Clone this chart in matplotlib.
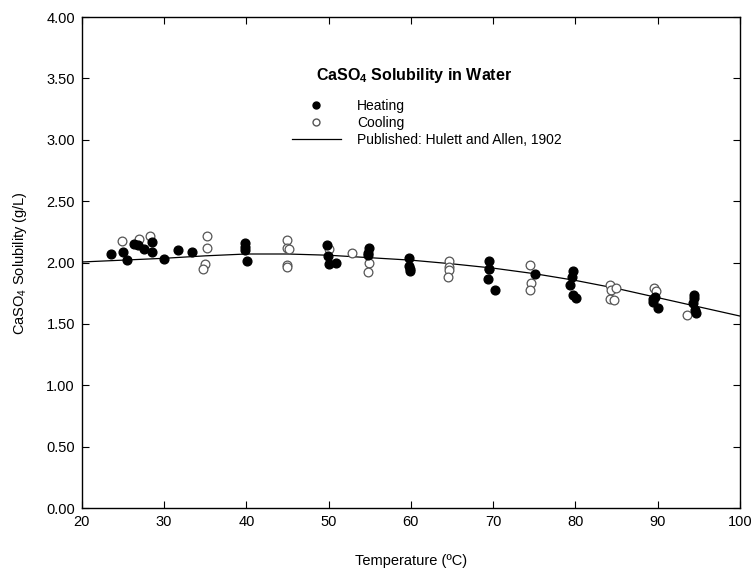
import numpy as np
import matplotlib
matplotlib.use('Agg')
import matplotlib.pyplot as plt
from matplotlib.lines import Line2D

plt.rcParams['font.family'] = ['Liberation Sans', 'DejaVu Sans']
plt.rcParams['mathtext.fontset'] = 'custom'
plt.rcParams['mathtext.rm'] = 'Liberation Sans'
plt.rcParams['mathtext.bf'] = 'Liberation Sans:bold'

# heating runs (filled dots)
heat_t = [23.6, 25.0, 25.5, 26.4, 26.8, 27.6, 28.5, 28.5, 30.0, 31.7, 33.4,
          39.8, 39.8, 39.8, 40.1, 49.8, 49.95, 50.1, 50.9, 54.9, 54.8, 54.8,
          59.8, 59.8, 59.96, 59.9, 69.5, 69.5, 69.4, 70.2, 75.1,
          79.7, 79.6, 79.4, 79.7, 80.1, 89.7, 89.4, 89.5, 90.1,
          94.4, 94.4, 94.3, 94.5, 94.7]
heat_s = [2.07, 2.09, 2.02, 2.15, 2.14, 2.11, 2.17, 2.09, 2.03, 2.10, 2.09,
          2.16, 2.13, 2.10, 2.01, 2.14, 2.05, 1.99, 2.00, 2.12, 2.08, 2.06,
          2.04, 1.97, 1.93, 1.95, 2.01, 1.95, 1.87, 1.78, 1.91,
          1.93, 1.88, 1.82, 1.74, 1.71, 1.72, 1.68, 1.70, 1.63,
          1.74, 1.71, 1.67, 1.61, 1.59]

# cooling runs (open circles)
cool_t = [24.9, 26.9, 28.3, 35.2, 35.2, 35.0, 34.7, 44.9, 44.9, 45.0, 45.0, 45.2,
          50.0, 52.8, 54.9, 54.8, 64.7, 64.7, 64.7, 64.5, 69.5,
          74.5, 74.6, 74.5, 84.2, 84.4, 84.2, 84.7, 85.0, 89.6, 89.8, 93.6]
cool_s = [2.175, 2.19, 2.22, 2.22, 2.115, 1.985, 1.95, 2.18, 2.12, 1.98, 1.965, 2.11,
          2.11, 2.075, 2.0, 1.925, 2.01, 1.965, 1.94, 1.885, 1.95,
          1.98, 1.83, 1.775, 1.815, 1.775, 1.70, 1.695, 1.79, 1.79, 1.77, 1.57]

# Hulett and Allen (1902) curve
lit_t = [20, 25, 30, 35, 40, 45, 50, 55, 60, 65, 70, 75, 80, 85, 90, 95, 100]
lit_s = [2.005, 2.02, 2.035, 2.055, 2.07, 2.07, 2.06, 2.04, 2.02, 1.99, 1.955,
         1.91, 1.855, 1.79, 1.715, 1.64, 1.565]

fig = plt.figure(figsize=(7.51, 5.69), dpi=100)
ax = fig.add_axes([0.109, 0.107, 0.876, 0.863])

ax.plot(lit_t, lit_s, '-', color='black', lw=0.9, zorder=1)
ax.plot(heat_t, heat_s, 'o', ms=6.3, mfc='black', mec='black', zorder=3)
ax.plot(cool_t, cool_s, 'o', ms=6.3, mfc='white', mec='#555555', mew=0.9, zorder=2)

ax.set_xlim(20, 100)
ax.set_ylim(0, 4)
ax.set_xticks(np.arange(20, 101, 10))
ax.set_yticks(np.arange(0, 4.01, 0.5))
ax.yaxis.set_major_formatter(matplotlib.ticker.FormatStrFormatter('%.2f'))
ax.tick_params(direction='in', length=5, width=0.8, labelsize=10.5,
               top=True, right=True, pad=5)
for sp in ax.spines.values():
    sp.set_linewidth(1.0)

ax.set_xlabel('Temperature (ºC)', fontsize=10.5, labelpad=18)
ax.set_ylabel('CaSO$_4$ Solubility (g/L)', fontsize=10.5, labelpad=12)

ax.text(0.505, 0.882, r'CaSO$_\mathbf{4}$ Solubility in Water', transform=ax.transAxes,
        ha='center', va='center', fontsize=11.5, fontweight='bold')

handles = [Line2D([], [], ls='', marker='o', ms=5, mfc='black', mec='black'),
           Line2D([], [], ls='', marker='o', ms=5, mfc='white', mec='#555555'),
           Line2D([], [], ls='-', color='black', lw=0.9)]
labels = ['Heating', 'Cooling', 'Published: Hulett and Allen, 1902']
ax.legend(handles, labels, loc='upper left', bbox_to_anchor=(0.311, 0.845),
          frameon=False, fontsize=10, handlelength=3.5, handletextpad=1.2,
          labelspacing=0.22, borderaxespad=0)

fig.savefig('out.png', dpi=100)
